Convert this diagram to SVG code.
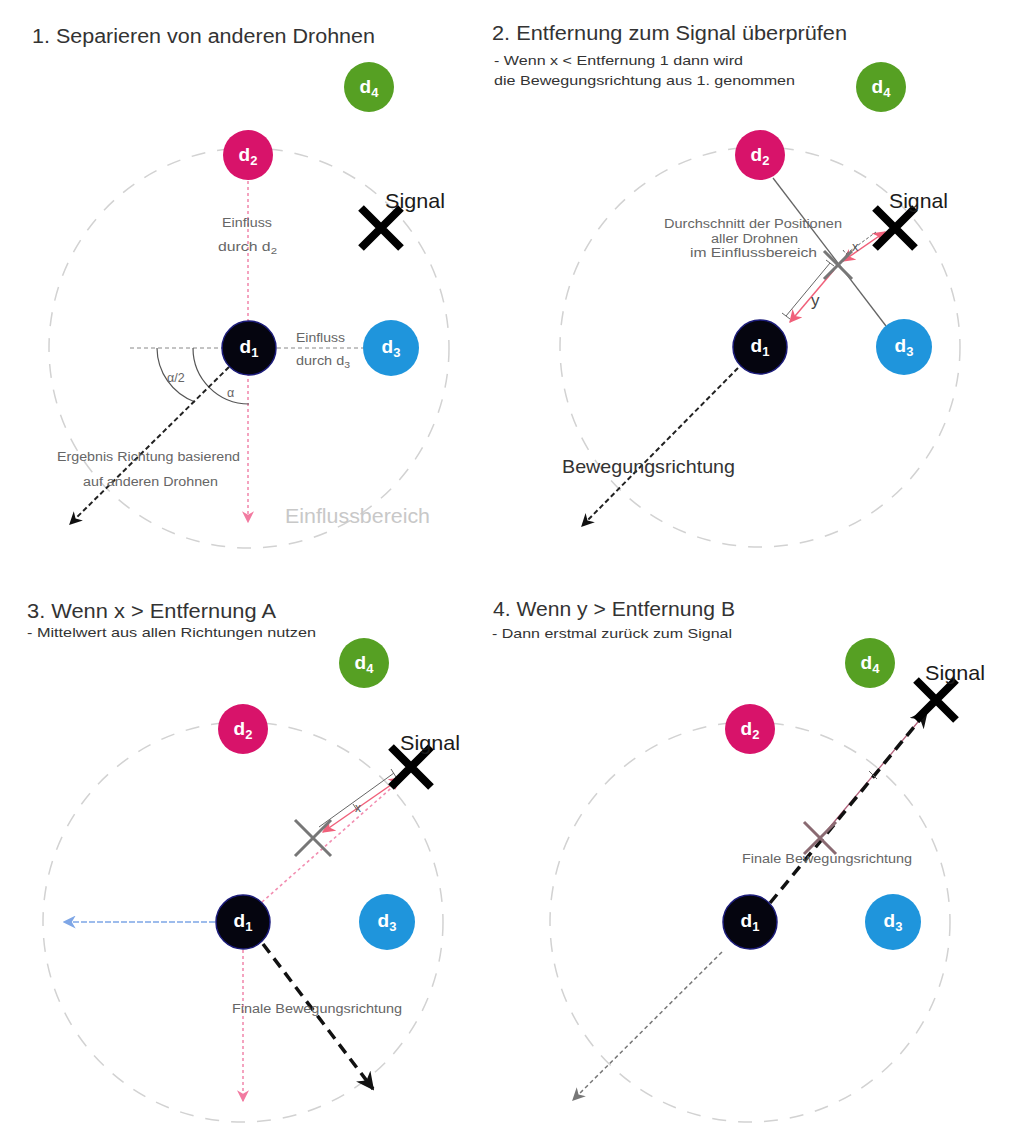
<svg xmlns="http://www.w3.org/2000/svg" width="1009" height="1124" viewBox="0 0 1009 1124">
  <style>
    text { font-family: "Liberation Sans", Arial, sans-serif; }
    .title { font-size: 20px; fill: #333; }
    .sub { font-size: 13.5px; fill: #333; }
    .lbl { font-size: 12.5px; fill: #666; }
    .sig { font-size: 21px; fill: #1a1a1a; }
    .zone { fill: none; stroke: #d2d2d2; stroke-width: 1.5; stroke-dasharray: 14 12; }
    .nd text { font-size: 19px; font-weight: bold; fill: #fff; text-anchor: middle; }
    .d1 circle { fill: #05050f; stroke: #1c1c7a; stroke-width: 1.5; }
    .d2 circle { fill: #d8136a; }
    .d3 circle { fill: #1f95dc; }
    .d4 circle { fill: #56a023; }
    .xs { stroke: #000; stroke-width: 8; }
    .xg { stroke: #777; stroke-width: 3; }
    .pinkdot { stroke: #f28db0; stroke-width: 1.6; stroke-dasharray: 3 3; fill: none; }
    .pink { stroke: #f0607a; stroke-width: 1.5; fill: none; }
    .dim { stroke: #666; stroke-width: 1; fill: none; }
    .blk { stroke: #222; stroke-width: 2; stroke-dasharray: 5 3; fill: none; }
    .blkthick { stroke: #111; stroke-width: 3.5; stroke-dasharray: 11 7; fill: none; }
    .arc { stroke: #555; stroke-width: 1.2; fill: none; }
  </style>
  <defs>
    <marker id="ah-black" viewBox="0 0 10 10" refX="9" refY="5" markerWidth="13" markerHeight="13" markerUnits="userSpaceOnUse" orient="auto">
      <path d="M0,0 L10,5 L0,10 L3,5 Z" fill="#111"/>
    </marker>
    <marker id="ah-black-lg" viewBox="0 0 10 10" refX="9" refY="5" markerWidth="18" markerHeight="18" markerUnits="userSpaceOnUse" orient="auto">
      <path d="M0,0 L10,5 L0,10 L3,5 Z" fill="#111"/>
    </marker>
    <marker id="ah-pink" viewBox="0 0 10 10" refX="9" refY="5" markerWidth="13" markerHeight="13" markerUnits="userSpaceOnUse" orient="auto-start-reverse">
      <path d="M0,0 L10,5 L0,10 L3,5 Z" fill="#f0607a"/>
    </marker>
    <marker id="ah-pinklt" viewBox="0 0 10 10" refX="9" refY="5" markerWidth="12" markerHeight="12" markerUnits="userSpaceOnUse" orient="auto">
      <path d="M0,0 L10,5 L0,10 L3,5 Z" fill="#f27aa0"/>
    </marker>
    <marker id="ah-blue" viewBox="0 0 10 10" refX="9" refY="5" markerWidth="13" markerHeight="13" markerUnits="userSpaceOnUse" orient="auto">
      <path d="M0,0 L10,5 L0,10 L3,5 Z" fill="#7ea6e6"/>
    </marker>
    <marker id="ah-gray" viewBox="0 0 10 10" refX="9" refY="5" markerWidth="13" markerHeight="13" markerUnits="userSpaceOnUse" orient="auto">
      <path d="M0,0 L10,5 L0,10 L3,5 Z" fill="#777"/>
    </marker>
  </defs>

  <rect width="1009" height="1124" fill="#fff"/>

  <!-- headings -->
  <g id="headings">
    <text class="title" x="32" y="43" textLength="343" lengthAdjust="spacingAndGlyphs">1. Separieren von anderen Drohnen</text>
    <text class="title" x="492" y="40" textLength="355" lengthAdjust="spacingAndGlyphs">2. Entfernung zum Signal überprüfen</text>
    <text class="sub" x="494" y="65" textLength="249" lengthAdjust="spacingAndGlyphs">- Wenn x &lt; Entfernung 1 dann wird</text>
    <text class="sub" x="494" y="85" textLength="301" lengthAdjust="spacingAndGlyphs">die Bewegungsrichtung aus 1. genommen</text>
    <text class="title" x="27" y="618" textLength="249" lengthAdjust="spacingAndGlyphs">3. Wenn x &gt; Entfernung A</text>
    <text class="sub" x="27" y="637" textLength="289" lengthAdjust="spacingAndGlyphs">- Mittelwert aus allen Richtungen nutzen</text>
    <text class="title" x="493" y="616" textLength="242" lengthAdjust="spacingAndGlyphs">4. Wenn y &gt; Entfernung B</text>
    <text class="sub" x="492" y="638" textLength="240" lengthAdjust="spacingAndGlyphs">- Dann erstmal zurück zum Signal</text>
  </g>

  <!-- influence zones around d1 -->
  <g id="zones">
    <circle class="zone" cx="249" cy="348" r="200"/>
    <circle class="zone" cx="760" cy="347" r="200"/>
    <circle class="zone" cx="243" cy="922" r="200"/>
    <circle class="zone" cx="750" cy="922" r="200"/>
    <text x="285" y="523" font-size="21" fill="#c8c8c8" textLength="145" lengthAdjust="spacingAndGlyphs">Einflussbereich</text>
  </g>

  <!-- connectors -->
  <g id="connectors">
    <!-- panel 1 -->
    <line class="pinkdot" x1="248" y1="181" x2="248" y2="522" marker-end="url(#ah-pinklt)"/>
    <line x1="130" y1="348" x2="363" y2="348" stroke="#888" stroke-width="1" stroke-dasharray="4 3"/>
    <path class="arc" d="M193,348 A56,56 0 0 0 249,404"/>
    <path class="arc" d="M157,348 A58,58 0 0 0 195,402"/>
    <line class="blk" x1="229" y1="367" x2="70" y2="524" marker-end="url(#ah-black)"/>

    <!-- panel 2 -->
    <line x1="773" y1="178" x2="886" y2="326" stroke="#666" stroke-width="1.3"/>
    <line class="pink" x1="843" y1="261" x2="885" y2="232" marker-start="url(#ah-pink)" marker-end="url(#ah-pink)"/>
    <line class="pink" x1="834" y1="270" x2="790" y2="322" marker-end="url(#ah-pink)"/>
    <path class="dim" d="M786,316 L830,263 M826,260 L834,266 M782,313 L790,319"/>
    <path class="dim" d="M846,254 L876,232 M843,250 L849,258" stroke-dasharray="3 2"/>
    <line class="blk" x1="738" y1="368" x2="582" y2="526" marker-end="url(#ah-black)"/>

    <!-- panel 3 -->
    <line x1="215" y1="922" x2="64" y2="922" stroke="#7ea6e6" stroke-width="1.5" stroke-dasharray="6 2" marker-end="url(#ah-blue)"/>
    <line class="pinkdot" x1="243" y1="950" x2="243" y2="1101" marker-end="url(#ah-pinklt)"/>
    <line class="pinkdot" x1="262" y1="902" x2="398" y2="782"/>
    <line class="pink" x1="323" y1="832" x2="401" y2="778" marker-start="url(#ah-pink)" marker-end="url(#ah-pink)"/>
    <path class="dim" d="M319,827 L394,773 M353,804 L357,810 M391,769 L396,777"/>
    <line class="blkthick" x1="263" y1="944" x2="373" y2="1089" marker-end="url(#ah-black-lg)"/>

    <!-- panel 4 -->
    <line x1="824" y1="834" x2="928" y2="710" stroke="#b0607a" stroke-width="1.3"/>
    <line class="blkthick" x1="770" y1="903" x2="927" y2="711" marker-end="url(#ah-black-lg)"/>
    <path class="dim" d="M869,771 L877,779"/>
    <line x1="722" y1="952" x2="573" y2="1100" stroke="#777" stroke-width="1.5" stroke-dasharray="4 3" marker-end="url(#ah-gray)"/>
  </g>

  <!-- labels -->
  <g id="labels">
    <text class="lbl" x="222" y="227" textLength="50" lengthAdjust="spacingAndGlyphs">Einfluss</text>
    <text class="lbl" x="218" y="251" textLength="59" lengthAdjust="spacingAndGlyphs">durch d<tspan font-size="9" dy="3">2</tspan></text>
    <text class="lbl" x="296" y="342" textLength="49" lengthAdjust="spacingAndGlyphs">Einfluss</text>
    <text class="lbl" x="296" y="365" textLength="54" lengthAdjust="spacingAndGlyphs">durch d<tspan font-size="9" dy="3">3</tspan></text>
    <text class="lbl" x="167" y="382" font-size="12">α/2</text>
    <text class="lbl" x="227" y="397" font-size="12">α</text>
    <text class="lbl" x="57" y="461" textLength="183" lengthAdjust="spacingAndGlyphs">Ergebnis Richtung basierend</text>
    <text class="lbl" x="83" y="486" textLength="135" lengthAdjust="spacingAndGlyphs">auf anderen Drohnen</text>

    <text class="lbl" x="664" y="228" font-size="11.5" textLength="178" lengthAdjust="spacingAndGlyphs">Durchschnitt der Positionen</text>
    <text class="lbl" x="711" y="243" font-size="11.5" textLength="87" lengthAdjust="spacingAndGlyphs">aller Drohnen</text>
    <text class="lbl" x="690" y="257" font-size="11.5" textLength="127" lengthAdjust="spacingAndGlyphs">im Einflussbereich</text>
    <text x="852" y="251" font-size="13" fill="#555">x</text>
    <text x="811" y="306" font-size="17" fill="#444">y</text>
    <text x="562" y="473" font-size="19" fill="#333" textLength="173" lengthAdjust="spacingAndGlyphs">Bewegungsrichtung</text>

    <text x="355" y="812" font-size="12" fill="#555">x</text>
    <text class="lbl" x="232" y="1013" textLength="170" lengthAdjust="spacingAndGlyphs">Finale Bewegungsrichtung</text>
    <text class="lbl" x="742" y="863" textLength="170" lengthAdjust="spacingAndGlyphs">Finale Bewegungsrichtung</text>
  </g>

  <!-- signal markers -->
  <g id="signal-1">
    <path class="xs" d="M361,208 L401,248 M401,208 L361,248"/>
    <text class="sig" x="385" y="208" textLength="60" lengthAdjust="spacingAndGlyphs">Signal</text>
  </g>
  <g id="signal-2">
    <path class="xs" d="M875,208 L915,248 M915,208 L875,248"/>
    <text class="sig" x="889" y="208" textLength="59" lengthAdjust="spacingAndGlyphs">Signal</text>
  </g>
  <g id="signal-3">
    <path class="xs" d="M391,747 L431,787 M431,747 L391,787"/>
    <text class="sig" x="400" y="750" textLength="60" lengthAdjust="spacingAndGlyphs">Signal</text>
  </g>
  <g id="signal-4">
    <path class="xs" d="M916,680 L956,720 M956,680 L916,720"/>
    <text class="sig" x="925" y="680" textLength="60" lengthAdjust="spacingAndGlyphs">Signal</text>
  </g>

  <!-- averaged position marks -->
  <g id="avg-2"><path class="xg" d="M824,251 L852,279 M852,251 L824,279"/></g>
  <g id="avg-3"><path class="xg" d="M295,820 L331,856 M331,820 L295,856"/></g>
  <g id="avg-4"><path class="xg" d="M804,822 L836,854 M836,822 L804,854" style="stroke:#8a6a72"/></g>

  <!-- drones, panel 1 -->
  <g id="p1-d4" class="nd d4"><circle cx="369" cy="87" r="25"/><text x="369" y="93">d<tspan font-size="13" dy="4">4</tspan></text></g>
  <g id="p1-d2" class="nd d2"><circle cx="248" cy="155" r="25"/><text x="248" y="161">d<tspan font-size="13" dy="4">2</tspan></text></g>
  <g id="p1-d1" class="nd d1"><circle cx="249" cy="348" r="27"/><text x="249" y="353">d<tspan font-size="13" dy="4">1</tspan></text></g>
  <g id="p1-d3" class="nd d3"><circle cx="391" cy="348" r="28"/><text x="391" y="353">d<tspan font-size="13" dy="4">3</tspan></text></g>

  <!-- drones, panel 2 -->
  <g id="p2-d4" class="nd d4"><circle cx="881" cy="87" r="25"/><text x="881" y="93">d<tspan font-size="13" dy="4">4</tspan></text></g>
  <g id="p2-d2" class="nd d2"><circle cx="760" cy="155" r="25"/><text x="760" y="161">d<tspan font-size="13" dy="4">2</tspan></text></g>
  <g id="p2-d1" class="nd d1"><circle cx="760" cy="347" r="27"/><text x="760" y="352">d<tspan font-size="13" dy="4">1</tspan></text></g>
  <g id="p2-d3" class="nd d3"><circle cx="904" cy="347" r="28"/><text x="904" y="352">d<tspan font-size="13" dy="4">3</tspan></text></g>

  <!-- drones, panel 3 -->
  <g id="p3-d4" class="nd d4"><circle cx="364" cy="663" r="25"/><text x="364" y="669">d<tspan font-size="13" dy="4">4</tspan></text></g>
  <g id="p3-d2" class="nd d2"><circle cx="243" cy="729" r="25"/><text x="243" y="735">d<tspan font-size="13" dy="4">2</tspan></text></g>
  <g id="p3-d1" class="nd d1"><circle cx="243" cy="922" r="27"/><text x="243" y="927">d<tspan font-size="13" dy="4">1</tspan></text></g>
  <g id="p3-d3" class="nd d3"><circle cx="387" cy="922" r="28"/><text x="387" y="927">d<tspan font-size="13" dy="4">3</tspan></text></g>

  <!-- drones, panel 4 -->
  <g id="p4-d4" class="nd d4"><circle cx="870" cy="663" r="25"/><text x="870" y="669">d<tspan font-size="13" dy="4">4</tspan></text></g>
  <g id="p4-d2" class="nd d2"><circle cx="750" cy="729" r="25"/><text x="750" y="735">d<tspan font-size="13" dy="4">2</tspan></text></g>
  <g id="p4-d1" class="nd d1"><circle cx="750" cy="922" r="27"/><text x="750" y="927">d<tspan font-size="13" dy="4">1</tspan></text></g>
  <g id="p4-d3" class="nd d3"><circle cx="893" cy="922" r="28"/><text x="893" y="927">d<tspan font-size="13" dy="4">3</tspan></text></g>
</svg>
